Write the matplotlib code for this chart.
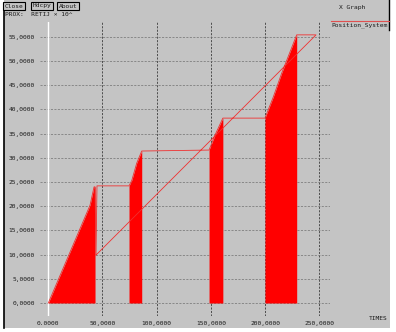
import matplotlib
matplotlib.use("Agg")
import matplotlib.pyplot as plt
import matplotlib.patches as patches

# データ
blk1_t = [280, 38700, 42400, 43300]
blk1_v = [0, 20200, 24000, 24000]
blk2_t = [74600, 77100, 81700, 86300]
blk2_v = [24200, 25300, 28900, 31400]
blk3_t = [148300, 153800, 161000]
blk3_v = [31600, 34700, 38200]
blk4_t = [199800, 207500, 215200, 229000]
blk4_v = [38200, 42600, 47500, 55400]
dip_t, dip_v = 44200, 9900
end_t, end_v = 246800, 55400

x_ticks = [0, 50000, 100000, 150000, 200000, 250000]
x_labels = ["0.0000", "50,0000", "100,0000", "150,0000", "200,0000", "250,0000"]
y_ticks = [0, 5000, 10000, 15000, 20000, 25000, 30000, 35000, 40000, 45000, 50000, 55000]
y_labels = ["0,0000", "5,0000", "10,0000", "15,0000", "20,0000", "25,0000",
            "30,0000", "35,0000", "40,0000", "45,0000", "50,0000", "55,0000"]

W, H = 396, 332
bg = "#c4c4c4"
red = "#ff0000"
font = "DejaVu Sans Mono"
fs = 4.5
txt = "#1a1a1a"

fig = plt.figure(figsize=(W / 100, H / 100), dpi=100, facecolor="white")

# ウィンドウ枠
fig.patches.append(patches.Rectangle((4 / W, 4 / H), 386 / W, 1 - 4 / H,
                                     transform=fig.transFigure, facecolor=bg,
                                     edgecolor="none", zorder=-5))
fig.add_artist(plt.Line2D([4 / W, 4 / W], [4 / H, 1 - 8 / H], color="black",
                          lw=1.2, transform=fig.transFigure))
fig.add_artist(plt.Line2D([389 / W, 389 / W], [1 - 30 / H, 1], color="black",
                          lw=1.0, transform=fig.transFigure))

ax = fig.add_axes([40 / W, 16 / H, 290 / W, 294 / H])
ax.set_facecolor(bg)
for s in ax.spines.values():
    s.set_visible(False)

ax.set_xlim(-7366, 259670)
ax.set_ylim(-2686, 58058)
ax.set_xticks(x_ticks)
ax.set_xticklabels(x_labels, fontfamily=font, fontsize=fs, color=txt)
ax.set_yticks(y_ticks)
ax.set_yticklabels(y_labels, fontfamily=font, fontsize=fs, color=txt)
ax.tick_params(axis="x", length=0, pad=3.6)
ax.tick_params(axis="y", length=0, pad=3.6)
ax.grid(axis="x", color="#202020", ls=(0, (3, 2)), lw=0.5)
ax.grid(axis="y", color="#707070", ls=(0, (3, 2)), lw=0.5)
ax.set_axisbelow(True)
ax.axvline(0, color="white", lw=1.0, zorder=1)

# 塗りつぶしブロック
for t, v in [(blk1_t, blk1_v), (blk2_t, blk2_v), (blk3_t, blk3_v), (blk4_t, blk4_v)]:
    ax.fill_between(t, 0, v, color=red, lw=0, zorder=2)

# 線
line_t = blk1_t + [dip_t, blk1_t[-1] + 1800] + blk2_t + blk3_t + blk4_t + [end_t, dip_t]
line_v = blk1_v + [dip_v, blk2_v[0]] + blk2_v + blk3_v + blk4_v + [end_v, dip_v]
ax.plot(line_t, line_v, color="#f03030", lw=0.6, zorder=3)

# 上部のボタンと文字
for x0, lab in [(5, "Close"), (33, "Hdcpy"), (59, "About")]:
    fig.text(x0 / W, 1 - 6 / H, lab, fontfamily=font, fontsize=fs, va="center", color=txt,
             ha="left", bbox=dict(boxstyle="square,pad=0.25", fc=bg, ec="black", lw=0.8))
fig.text(5 / W, 1 - 15 / H, "PROX:  RETIJ \u00d7 10^", fontfamily=font, fontsize=fs,
         va="center", ha="left", color=txt)
fig.text(352 / W, 1 - 8 / H, "X Graph", fontfamily=font, fontsize=fs,
         va="center", ha="center", color=txt)
fig.add_artist(plt.Line2D([331 / W, 389 / W], [1 - 21 / H, 1 - 21 / H], color="#e05050",
                          lw=0.8, transform=fig.transFigure))
fig.text(331 / W, 1 - 25.5 / H, "Position_System", fontfamily=font, fontsize=fs,
         va="center", ha="left", color=txt)
fig.text(388 / W, 1 - 318 / H, "TIMES", fontfamily=font, fontsize=fs,
         va="center", ha="right", color=txt)

fig.savefig("out.png", dpi=100, facecolor="white")
